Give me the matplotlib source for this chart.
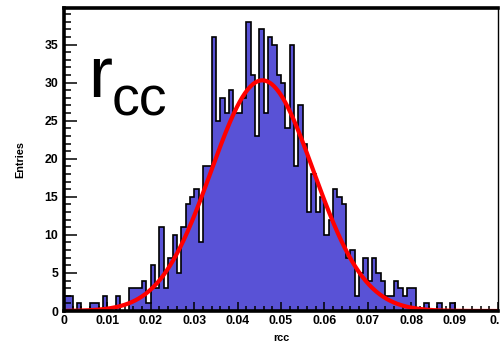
import numpy as np
import matplotlib
matplotlib.use("Agg")
import matplotlib.pyplot as plt
from matplotlib.ticker import MultipleLocator, FixedLocator

# histogram of rcc, 100 bins between 0 and 0.1
x_min, x_max = 0.0, 0.1
counts = [2, 2, 0, 1, 0, 0, 1, 1, 0, 2,
          0, 0, 2, 0, 0, 3, 3, 3, 4, 1,
          6, 3, 11, 3, 7, 10, 5, 11, 14, 15,
          16, 9, 19, 19, 36, 25, 28, 26, 29, 26,
          26, 28, 38, 31, 23, 37, 26, 36, 35, 31,
          30, 24, 35, 19, 27, 22, 13, 18, 13, 15,
          10, 12, 16, 15, 14, 7, 8, 2, 5, 7,
          4, 7, 5, 4, 2, 2, 4, 3, 2, 3,
          3, 0, 0, 1, 0, 0, 1, 0, 0, 1,
          0, 0, 0, 0, 0, 0, 0, 0, 0, 0]

# gaussian fit parameters
fit_amp = 30.3
fit_mean = 0.0457
fit_sigma = 0.0118

x_ticks = [0, 0.01, 0.02, 0.03, 0.04, 0.05, 0.06, 0.07, 0.08, 0.09, 0.1]
x_ticklabels = ["0", "0.01", "0.02", "0.03", "0.04", "0.05", "0.06", "0.07", "0.08", "0.09", "0.1"]
y_ticks = [0, 5, 10, 15, 20, 25, 30, 35]

plt.rcParams['font.family'] = ['Liberation Sans', 'DejaVu Sans']

fig = plt.figure(figsize=(5, 3.42), dpi=100)
ax = fig.add_axes([64 / 500, 1 - 311 / 342, 434 / 500, 303 / 342])

edges = np.linspace(x_min, x_max, len(counts) + 1)
ax.stairs(counts, edges, fill=True, color='#5952d6', linewidth=0)
ax.stairs(counts, edges, color='black', linewidth=1.2, baseline=0)

xs = np.linspace(x_min, x_max, 500)
fit = fit_amp * np.exp(-0.5 * ((xs - fit_mean) / fit_sigma) ** 2)
ax.plot(xs, fit, color='red', linewidth=3.0, solid_capstyle='butt')

ax.set_xlim(x_min, x_max)
ax.set_ylim(0, 39.8)

ax.xaxis.set_major_locator(FixedLocator(x_ticks))
ax.set_xticklabels(x_ticklabels)
ax.xaxis.set_minor_locator(MultipleLocator(0.002))
ax.yaxis.set_major_locator(FixedLocator(y_ticks))
ax.yaxis.set_minor_locator(MultipleLocator(1))

ax.tick_params(axis='both', which='both', direction='in', color='black', width=1.1)
ax.tick_params(axis='x', which='major', length=6.5, pad=3, labelsize=8.8)
ax.tick_params(axis='x', which='minor', length=3.3)
ax.tick_params(axis='y', which='major', length=9.4, pad=4, labelsize=8.8)
ax.tick_params(axis='y', which='minor', length=4.7)
for lab in ax.get_xticklabels() + ax.get_yticklabels():
    lab.set_fontweight('bold')

for side in ['left', 'bottom', 'top']:
    ax.spines[side].set_linewidth(2.6)
ax.spines['right'].set_linewidth(1.0)

ax.set_xlabel('rcc', fontsize=7.8, fontweight='bold', labelpad=4)
ax.set_ylabel('Entries', fontsize=7.8, fontweight='bold', labelpad=14)

# big label in the top-left corner
fig.text(88 / 500, 1 - 97 / 342, 'r', fontsize=52, ha='left', va='baseline')
fig.text(112 / 500, 1 - 116 / 342, 'cc', fontsize=40, ha='left', va='baseline')

fig.savefig('out.png', dpi=100)
